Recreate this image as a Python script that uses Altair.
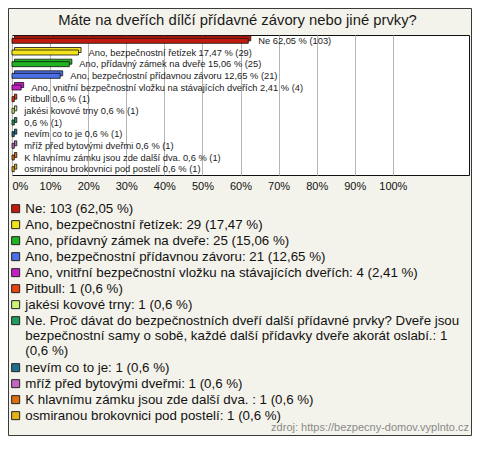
import altair as alt
import pandas as pd

# ---- data ----
names = [
    "Ne",
    "Ano, bezpečnostní řetízek",
    "Ano, přídavný zámek na dveře",
    "Ano, bezpečnostní přídavnou závoru",
    "Ano, vnitřní bezpečnostní vložku na stávajících dveřích",
    "Pitbull",
    "jakési kovové trny",
    "Ne. Proč dávat do bezpečnostních dveří další přídavné prvky? Dveře jsou|bezpečnostní samy o sobě, každé další přídavky dveře akorát oslabí.",
    "nevím co to je",
    "mříž před bytovými dveřmi",
    "K hlavnímu zámku jsou zde další dva. ",
    "osmiranou brokovnici pod postelí",
]
bar_names = [
    "Ne",
    "Ano, bezpečnostní řetízek",
    "Ano, přídavný zámek na dveře",
    "Ano, bezpečnostní přídavnou závoru",
    "Ano, vnitřní bezpečnostní vložku na stávajících dveřích",
    "Pitbull",
    "jakési kovové trny",
    "",
    "nevím co to je",
    "mříž před bytovými dveřmi",
    "K hlavnímu zámku jsou zde další dva. ",
    "osmiranou brokovnici pod postelí",
]
counts = [103, 29, 25, 21, 4, 1, 1, 1, 1, 1, 1, 1]
pct_text = ["62,05", "17,47", "15,06", "12,65", "2,41", "0,6", "0,6", "0,6", "0,6", "0,6", "0,6", "0,6"]
pct_values = [62.05, 17.47, 15.06, 12.65, 2.41, 0.6, 0.6, 0.6, 0.6, 0.6, 0.6, 0.6]
legend_sep = [" ", " ", " ", " ", " ", " ", " ", "|", " ", " ", " ", " "]
colors = [
    "#c21a0e", "#f3e31c", "#20b420", "#4a6fe6", "#c61ec6", "#e8430f",
    "#cdf27c", "#1f9d5f", "#1f6f8d", "#c267c2", "#e0700d", "#e5b414",
]
tick_values = [0, 0.1, 0.2, 0.3, 0.4, 0.5, 0.6, 0.7, 0.8, 0.9, 1.0]

title_text = "Máte na dveřích dílčí přídavné závory nebo jiné prvky?"
source_text = "zdroj: https://bezpecny-domov.vyplnto.cz"

keys = [f"{n}: {c}{s}({p} %)" for n, c, s, p in zip(names, counts, legend_sep, pct_text)]
labels = [(f"{b} " if b else "") + f"{p} % ({c})" for b, p, c in zip(bar_names, pct_text, counts)]

df = pd.DataFrame({
    "key": keys,
    "share": [v / 100 for v in pct_values],
    "label": labels,
})

W, H = 457, 140
FONT = "Liberation Sans"

legend = alt.Legend(
    title=None, orient="none", legendX=-3, legendY=167, direction="vertical",
    symbolType="square", symbolSize=64, symbolStrokeColor="#222", symbolStrokeWidth=1,
    labelFont=FONT, labelFontSize=13.3, labelColor="#111", labelLimit=470,
    labelOffset=3, rowPadding=2, padding=0,
    labelExpr="split(datum.label, '|')",
)

color = alt.Color("key:N", scale=alt.Scale(domain=keys, range=colors), legend=legend)
y = alt.Y("key:N", sort=keys, axis=None, scale=alt.Scale(paddingInner=0, paddingOuter=0))
x = alt.X(
    "share:Q",
    scale=alt.Scale(domain=[0, 1.2], nice=False, zero=True),
    axis=alt.Axis(
        values=tick_values, format=".0%", grid=True, gridColor="#b5b5b5",
        ticks=False, domain=False, labelFlush=True, labelPadding=5,
        labelFontSize=11, labelFont=FONT, labelColor="#111", title=None,
    ),
)

frame = alt.Chart(pd.DataFrame({"a": [0]})).mark_rect(
    fillOpacity=0, stroke="#3a3a3a", strokeWidth=1
).encode(
    x=alt.value(-3.5), x2=alt.value(W + 2.5), y=alt.value(-26.5), y2=alt.value(400.5)
)

back = alt.Chart(df).mark_bar(
    size=5, xOffset=2.5, yOffset=-2.5, stroke="#111", strokeWidth=0.8
).encode(x=x, y=y, color=color)

front = alt.Chart(df).mark_bar(
    size=5, stroke="#111", strokeWidth=0.8
).encode(x=x, y=y, color=color)

text = alt.Chart(df).mark_text(
    align="left", baseline="middle", dx=10, fontSize=9.3, font=FONT, color="#1a1a1a"
).encode(x=x, y=y, text="label:N")

title = alt.Chart(pd.DataFrame({"t": [title_text]})).mark_text(
    fontSize=14.8, font=FONT, color="#1a1a1a", align="center", baseline="middle"
).encode(x=alt.value(W / 2 - 3), y=alt.value(-14), text="t:N")

source = alt.Chart(pd.DataFrame({"t": [source_text]})).mark_text(
    fontSize=11, font=FONT, color="#8a8a8a", align="right", baseline="middle"
).encode(x=alt.value(W), y=alt.value(393), text="t:N")

chart = alt.layer(frame, back, front, text, title, source).properties(
    width=W, height=H, padding=0, background="#f4f3eb"
).configure_view(fill="white", stroke="#111", strokeWidth=1)

chart.save("out.html", embed_options={"renderer": "svg", "actions": False})
